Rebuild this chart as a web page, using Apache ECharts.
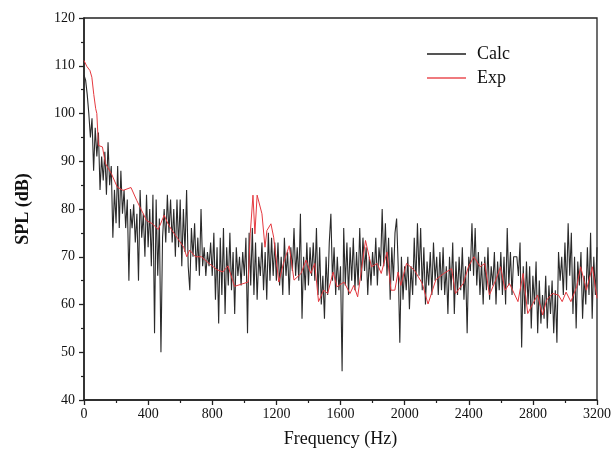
<!DOCTYPE html>
<html>
<head>
<meta charset="utf-8">
<script src="https://cdn.jsdelivr.net/npm/echarts@6/dist/echarts.min.js"></script>
<style>html,body{margin:0;padding:0;background:#fff}#c{width:614px;height:458px}</style>
</head>
<body>
<div id="c"></div>
<script>
// Calc: one value every 10 Hz from 0 to 3200 Hz
var calcStep = 10;
var calcValues = [
108,107,104,100,95,99,88,97,91,96,84,91,86,92,83,94,85,89,74,84,77,89,76,88,79,84,76,82,65,80,76,81,73,79,65,84,74,79,70,83,72,
80,68,83,54,82,66,78,50,74,80,73,83,75,82,73,80,70,82,72,82,68,80,71,84,68,63,76,70,77,67,74,66,80,68,72,66,71,68,73,66,
75,61,72,56,74,62,76,58,72,64,75,63,71,58,72,66,70,64,71,66,74,54,75,64,76,62,73,61,70,66,73,63,71,61,75,65,74,66,73,65,
73,64,70,62,74,66,71,62,72,67,76,66,72,65,79,57,70,63,73,64,72,66,73,65,76,62,72,60,66,57,70,62,73,79,65,72,62,70,63,68,
46,76,64,73,62,72,65,74,63,71,64,76,65,74,67,72,62,70,64,71,66,74,64,72,68,80,68,77,66,74,61,72,65,75,78,68,52,70,61,68,
63,70,59,68,62,74,64,77,66,76,63,72,60,69,64,71,62,73,65,70,62,71,63,72,62,68,58,70,63,73,58,69,62,70,63,72,61,68,54,70,
67,77,66,76,64,71,62,69,60,70,63,72,61,68,64,71,60,69,63,71,62,70,60,76,64,71,62,70,70,70,66,73,51,68,58,69,60,68,55,66,
60,69,54,65,56,62,57,66,55,64,58,65,54,63,52,71,65,70,62,73,63,77,66,75,58,70,55,69,64,71,57,66,60,72,62,75,57,70,62,72
];
// Exp: measured points (frequency, level)
var expFreq = [0,17,37,49,61,73,80,90,115,134,171,207,244,293,329,390,427,463,500,524,549,585,622,641,659,695,732,780,829,866,898,939,1024,1037,1054,1066,1080,1110,1129,1141,1166,1183,1215,1244,1280,1310,1354,1385,1415,1439,1463,1495,1520,1554,1578,1622,1659,1683,1707,1756,1793,1829,1854,1890,1915,1939,1959,1976,2012,2061,2110,2146,2195,2244,2293,2317,2366,2398,2432,2471,2500,2529,2568,2598,2627,2654,2707,2739,2768,2800,2829,2861,2885,2922,2959,2983,3007,3037,3073,3098,3134,3171,3200];
var expValues = [111.1,109.9,109,107.6,104,101,100,93.3,93,89.5,87.4,84.6,83.9,84.5,81.8,77.6,76.9,75.7,78.7,76.9,75.5,73.8,72,70,71.4,70,70,68.6,67.3,66.8,68.1,63.8,64.7,74.8,82.9,74.8,82.9,79,72,75.5,76.9,74.1,64.7,68.6,72.3,65.1,66.5,69.3,66.5,68.6,60.6,63,62.3,66.8,63.7,64.7,62.3,64,61.6,73.4,67.9,68.6,66.5,71,63,63,66.8,64,68.6,67.2,64.4,60.1,65.2,66.5,67.5,62.3,64.4,67.9,70,67.9,68.6,62,65.1,67.9,63,64.4,60.6,66.5,58.1,60.2,62,57.8,60.9,62.3,62,60.6,62.6,60.6,63.7,67.9,63,67.9,61.3];
var xTicks = [0,400,800,1200,1600,2000,2400,2800,3200];
var yTicks = [40,50,60,70,80,90,100,110,120];

var calcData = calcValues.map(function(v,i){return [i*calcStep, v];});
var expData = expFreq.map(function(f,i){return [f, expValues[i]];});
var font = '"Liberation Serif","Times New Roman",serif';

var chart = echarts.init(document.getElementById('c'), null, {renderer:'canvas'});
chart.setOption({
  animation:false,
  backgroundColor:'#fff',
  grid:{left:84, right:16, top:18, bottom:58, show:true, borderColor:'#222', borderWidth:1.3, backgroundColor:'transparent'},
  legend:{
    orient:'vertical', left:422, top:40, itemGap:6,
    itemWidth:39, itemHeight:2, icon:'rect',
    textStyle:{fontFamily:font, fontSize:18, color:'#111', padding:[0,0,0,6]},
    data:['Calc','Exp']
  },
  xAxis:{
    type:'value', min:xTicks[0], max:xTicks[xTicks.length-1], interval:400,
    name:'Frequency (Hz)', nameLocation:'middle', nameGap:30,
    nameTextStyle:{fontFamily:font, fontSize:18, color:'#111'},
    axisLine:{onZero:false, lineStyle:{color:'#222', width:1.5}},
    axisTick:{show:true, inside:false, length:5, lineStyle:{color:'#222', width:1.3}},
    minorTick:{show:true, splitNumber:2, length:3, lineStyle:{color:'#222', width:1.2}},
    axisLabel:{fontFamily:font, fontSize:14, color:'#111', margin:7, formatter:function(v){return String(v);}},
    splitLine:{show:false}
  },
  yAxis:{
    type:'value', min:yTicks[0], max:yTicks[yTicks.length-1], interval:10,
    name:'SPL (dB)', nameLocation:'middle', nameGap:52, nameRotate:90,
    nameTextStyle:{fontFamily:font, fontSize:18, fontWeight:'bold', color:'#111'},
    axisLine:{onZero:false, lineStyle:{color:'#222', width:1.5}},
    axisTick:{show:true, inside:false, length:5, lineStyle:{color:'#222', width:1.3}},
    minorTick:{show:true, splitNumber:2, length:3, lineStyle:{color:'#222', width:1.2}},
    axisLabel:{fontFamily:font, fontSize:14, color:'#111', margin:9, formatter:function(v){return String(v);}},
    splitLine:{show:false}
  },
  series:[
    {name:'Calc', type:'line', data:calcData, symbol:'none', showSymbol:false,
     lineStyle:{color:'#2a2a2a', width:1.1}, itemStyle:{color:'#555'}, z:2},
    {name:'Exp', type:'line', data:expData, symbol:'none', showSymbol:false,
     lineStyle:{color:'#e5393f', width:1}, itemStyle:{color:'#ef7a7e'}, z:3}
  ]
});
</script>
</body>
</html>
